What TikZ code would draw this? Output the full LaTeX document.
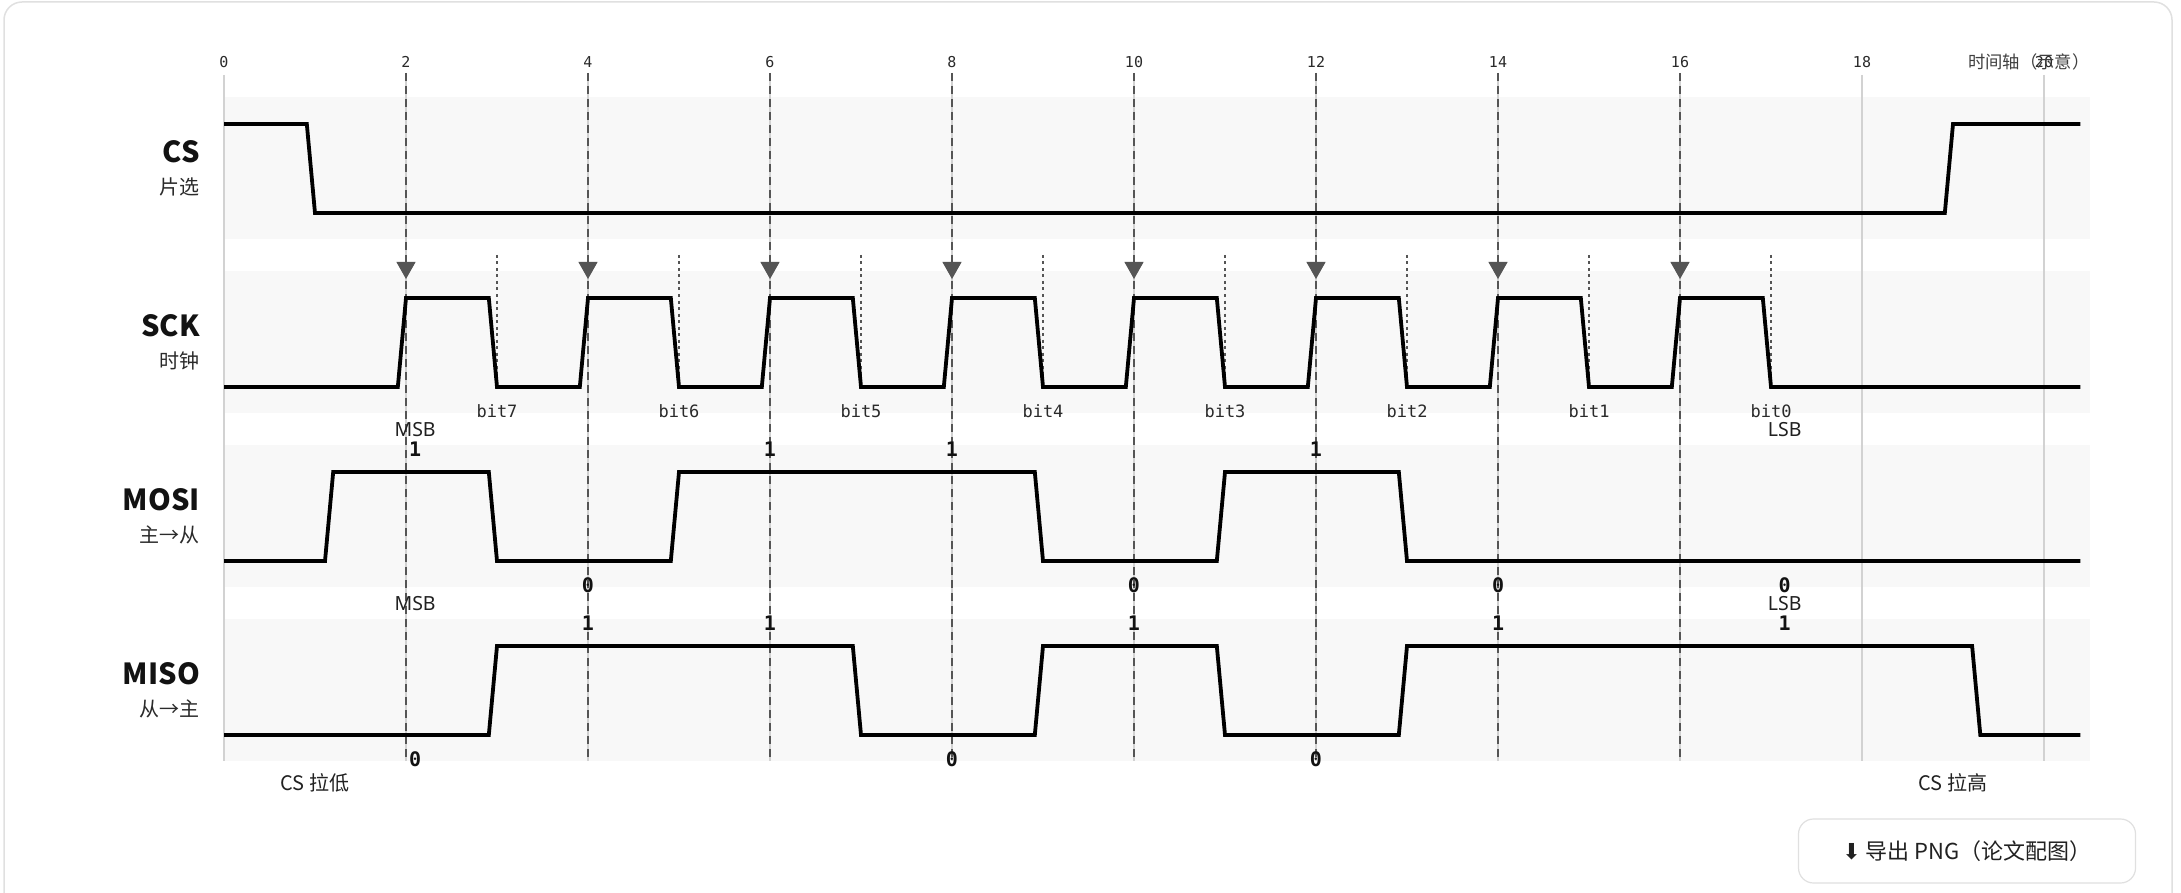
\documentclass[tikz,border=0pt]{standalone}
\usepackage{fontspec}
\setmainfont{Noto Sans}
\setmonofont{DejaVu Sans Mono}
\newfontfamily\cjkfont{Noto Sans CJK SC}
\newfontfamily\lanefont{Noto Sans CJK SC}
\newfontfamily\symbolfont{DejaVu Sans}
\usepackage{xcolor}
\definecolor{colorBand}{HTML}{F8F8F8}
\definecolor{colorGrid}{HTML}{D2D2D2}
\definecolor{colorSample}{HTML}{555555}
\definecolor{colorText}{HTML}{2A2A2A}
\definecolor{colorCard}{HTML}{E0E0E0}
\usepackage{tikz}
\usetikzlibrary{arrows.meta}
\tikzset{
  card/.style={draw=colorCard, line width=1.5pt, rounded corners=18pt, fill=white},
  band/.style={fill=colorBand},
  signal/.style={line width=3.8pt, line join=miter, black},
  grid line/.style={colorGrid, line width=1.3pt},
  sample line/.style={colorSample, line width=1.6pt, dash pattern=on 8pt off 5pt},
  sample tip/.style={-{Triangle[width=19pt, length=17pt]}, colorSample, line width=1pt},
  shift line/.style={colorSample, line width=1.4pt, dash pattern=on 3pt off 3.5pt},
  every node/.style={inner sep=0pt},
  tick label/.style={font=\ttfamily\fontsize{15}{17}\selectfont, text=colorText},
  axis caption/.style={font=\cjkfont\fontsize{17.3}{19}\selectfont, text=colorText!90, anchor=east},
  lane name/.style={font=\lanefont\bfseries\fontsize{29}{31}\selectfont, text=black!93, anchor=east},
  lane sub/.style={font=\cjkfont\fontsize{20}{22}\selectfont, text=colorText, anchor=east},
  bit name/.style={font=\ttfamily\fontsize{17}{19}\selectfont, text=colorText},
  bit value/.style={font=\ttfamily\bfseries\fontsize{20}{22}\selectfont, text=black!93},
  order mark/.style={font=\fontsize{19.5}{21}\selectfont, text=black!87},
  cs note/.style={font=\cjkfont\fontsize{20}{22}\selectfont, text=black!87},
  button/.style={draw=colorCard, line width=1.2pt, rounded corners=15pt, fill=white,
    minimum width=337pt, minimum height=64pt, font=\cjkfont\fontsize{22}{24}\selectfont, text=black!87}
}
\begin{document}
\begin{tikzpicture}[x=1pt, y=-1pt]
\useasboundingbox (0,0) rectangle (2181,893);
\draw[card] (4,2) rectangle (2172,960);
% lane names
\node[lane name] (nameCS) at (200,152) {CS};
\node[lane sub] (subCS) at (200,187) {片选};
\node[lane name] (nameSCK) at (200,326) {SCK};
\node[lane sub] (subSCK) at (200,361) {时钟};
\node[lane name] (nameMOSI) at (200,500) {MOSI};
\node[lane sub] (subMOSI) at (200,535) {主→从};
\node[lane name] (nameMISO) at (200,674) {MISO};
\node[lane sub] (subMISO) at (200,709) {从→主};
\begin{scope}[x=91pt, xshift=224pt]
% bands and time axis
\foreach \b in {97,271,445,619}
  \fill[band] (0,\b) rectangle (20.5,{\b+142});
\foreach \k in {0,2,...,20}
  \draw[grid line] (\k,75) -- (\k,761);
\foreach \k in {0,2,...,20}
  \node[tick label] (tick\k) at (\k,62) {\k};
\node[axis caption] (axisCaption) at (20.5,62) {时间轴（示意）};
% sampling edges
\foreach \k in {2,4,...,16}
  \draw[sample line] (\k,73) -- (\k,761);
\foreach \k in {2,4,...,16}
  \draw[sample tip] (\k,256) -- (\k,279);
\foreach \k in {3,5,...,17}
  \draw[shift line] (\k,255) -- (\k,387);
% waveforms
\draw[signal] (0,124) -- (0.91,124) -- (1,213) -- (18.91,213) -- (19,124) -- (20.4,124);
\draw[signal] (0,387) foreach \k in {2,4,...,16} { -- ({\k-0.09},387) -- (\k,298) -- ({\k+0.91},298) -- ({\k+1},387) } -- (20.4,387);
\draw[signal] (0,561) -- (1.11,561) -- (1.2,472) -- (2.91,472) -- (3,561) -- (4.91,561) -- (5,472) -- (8.91,472) -- (9,561)
  -- (10.91,561) -- (11,472) -- (12.91,472) -- (13,561) -- (20.4,561);
\draw[signal] (0,735) -- (2.91,735) -- (3,646) -- (6.91,646) -- (7,735) -- (8.91,735) -- (9,646) -- (10.91,646) -- (11,735)
  -- (12.91,735) -- (13,646) -- (19.21,646) -- (19.3,735) -- (20.4,735);
% labels
\foreach \k/\n in {3/7,5/6,7/5,9/4,11/3,13/2,15/1,17/0}
  \node[bit name] (bit\n) at (\k,411) {bit\n};
\foreach \t/\v/\y [count=\i] in {2.1/1/449, 4/0/585, 6/1/449, 8/1/449, 10/0/585, 12/1/449, 14/0/585, 17.15/0/585}
  \node[bit value] (mosi\i) at (\t,\y) {\v};
\foreach \t/\v/\y [count=\i] in {2.1/0/759, 4/1/623, 6/1/623, 8/0/759, 10/1/623, 12/0/759, 14/1/623, 17.15/1/623}
  \node[bit value] (miso\i) at (\t,\y) {\v};
\node[order mark] (mosiMSB) at (2.1,430) {MSB};
\node[order mark] (mosiLSB) at (17.15,430) {LSB};
\node[order mark] (misoMSB) at (2.1,604) {MSB};
\node[order mark] (misoLSB) at (17.15,604) {LSB};
\node[cs note] (csLow) at (1,783) {CS 拉低};
\node[cs note] (csHigh) at (19,783) {CS 拉高};
\end{scope}
\node[button] (export) at (1967,851) {{\symbolfont ⬇} 导出 PNG（论文配图）};
\end{tikzpicture}
\end{document}
